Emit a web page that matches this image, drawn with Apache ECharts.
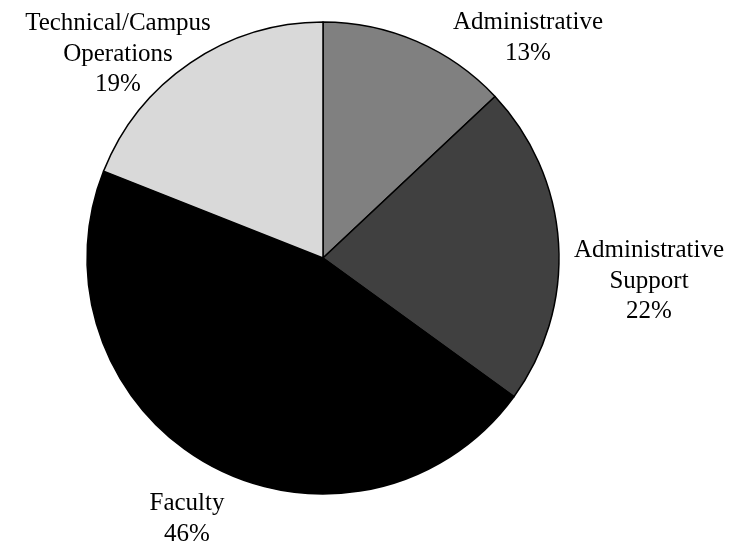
<!DOCTYPE html>
<html>
<head>
<meta charset="utf-8">
<style>
  html, body { margin: 0; padding: 0; background: #ffffff; }
  #chart { width: 735px; height: 551px; }
</style>
<script src="https://cdn.jsdelivr.net/npm/echarts@6/dist/echarts.min.js"></script>
</head>
<body>
<div id="chart"></div>
<script>
// Staff composition by category (percent of total)
const categories = [
  'Administrative',
  'Administrative\nSupport',
  'Faculty',
  'Technical/Campus\nOperations'
];
const shares = [13, 22, 46, 19];
const sliceColors = ['#808080', '#404040', '#000000', '#d9d9d9'];

// Label anchor points (block centres) for each slice
const labelAnchors = [
  [528, 38],
  [649, 281],
  [187, 519],
  [118, 54]
];

const chart = echarts.init(document.getElementById('chart'), null, { renderer: 'canvas' });

chart.setOption({
  animation: false,
  series: [{
    type: 'pie',
    center: [323, 258],
    radius: 236,
    startAngle: 90,
    clockwise: true,
    avoidLabelOverlap: false,
    data: categories.map((name, i) => ({
      name: name,
      value: shares[i],
      itemStyle: { color: sliceColors[i] }
    })),
    itemStyle: { borderColor: '#000000', borderWidth: 1.5 },
    label: {
      show: true,
      position: 'outside',
      formatter: '{b}\n{c}%',
      fontFamily: 'Liberation Serif',
      fontSize: 25,
      lineHeight: 30.5,
      color: '#000000',
      align: 'center'
    },
    labelLine: { show: false },
    labelLayout: function (params) {
      const p = labelAnchors[params.dataIndex];
      return { x: p[0], y: p[1], align: 'center', verticalAlign: 'middle' };
    },
    emphasis: { disabled: true }
  }]
});
</script>
</body>
</html>
